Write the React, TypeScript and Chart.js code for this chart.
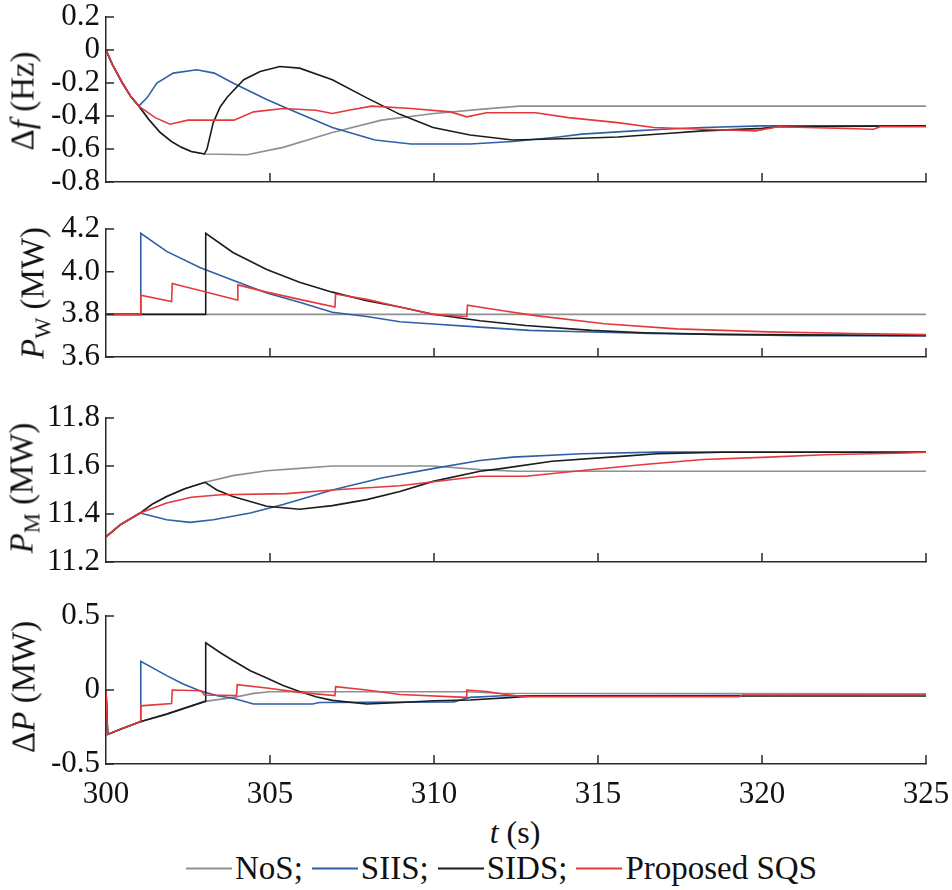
import { useEffect, useRef } from 'react'
import { Chart, registerables } from 'chart.js'

Chart.register(...registerables)

const FONT = 'Liberation Serif'
const AXIS = '#2a2a2a'
const TEXT = '#111'

Chart.defaults.font.family = FONT

const T_MIN = 300
const T_MAX = 325
const T_TICKS = [300, 305, 310, 315, 320, 325]

const SERIES = [
  { name: 'NoS;', color: '#8f8f8f', order: 3 },
  { name: 'SIIS;', color: '#2f5fa7', order: 2 },
  { name: 'SIDS;', color: '#1c1c1c', order: 1 },
  { name: 'Proposed SQS', color: '#e5383b', order: 0 },
]

// Δf (Hz)
const DF_TICKS = [0.2, 0, -0.2, -0.4, -0.6, -0.8]
const DF_START = [[300, 0], [300.2, -0.09], [300.5, -0.2], [300.75, -0.28], [301, -0.34]]
const DF_DROP = [[301.3, -0.42], [301.65, -0.5], [302, -0.555], [302.3, -0.59], [302.6, -0.615], [303, -0.63]]
const DF_NOS = [...DF_START, ...DF_DROP, [304.3, -0.635], [305.4, -0.59], [306.9, -0.5], [308.4, -0.425], [310, -0.385], [311.4, -0.36], [312.6, -0.34], [325, -0.34]]
const DF_SIIS = [...DF_START, [301.25, -0.29], [301.55, -0.2], [302.05, -0.14], [302.77, -0.12], [303.3, -0.14], [303.87, -0.2], [304.9, -0.3], [305.6, -0.36], [306.9, -0.47], [308.2, -0.545], [309.3, -0.57], [311.1, -0.57], [312.4, -0.555], [313.8, -0.527], [314.5, -0.51], [316.1, -0.49], [317, -0.48], [318.2, -0.47], [320, -0.46], [325, -0.46]]
const DF_SIDS = [...DF_START, ...DF_DROP, [303.08, -0.6], [303.27, -0.44], [303.48, -0.345], [303.7, -0.285], [304.2, -0.18], [304.7, -0.13], [305.3, -0.1], [305.9, -0.11], [306.9, -0.18], [307.95, -0.29], [308.96, -0.39], [309.97, -0.47], [311.1, -0.515], [312.4, -0.545], [314.5, -0.535], [315.6, -0.527], [317.2, -0.505], [318.2, -0.49], [320, -0.475], [320.5, -0.465], [325, -0.46]]
const DF_SQS = [...DF_START, [301.5, -0.41], [301.95, -0.45], [302.5, -0.425], [303.9, -0.425], [304.5, -0.375], [305.4, -0.355], [306.4, -0.365], [306.9, -0.385], [307.4, -0.365], [308.1, -0.34], [309.3, -0.355], [310.5, -0.375], [311, -0.405], [311.6, -0.38], [313.1, -0.38], [314.1, -0.41], [315.6, -0.44], [316.7, -0.47], [318.2, -0.48], [319.8, -0.49], [320.5, -0.465], [323.4, -0.48], [323.6, -0.465], [325, -0.465]]

// P_W (MW)
const PW_TICKS = [4.2, 4.0, 3.8, 3.6]
const PW_NOS = [[300, 3.8], [325, 3.8]]
const PW_SIIS = [[300, 3.8], [301.04, 3.8], [301.06, 4.18], [301.85, 4.095], [302.86, 4.02], [303.87, 3.96], [304.9, 3.9], [305.9, 3.857], [306.9, 3.81], [307.95, 3.79], [308.96, 3.765], [309.97, 3.755], [311.4, 3.74], [312.9, 3.725], [314.8, 3.717], [316.6, 3.71], [321.2, 3.7], [325, 3.7]]
const PW_SIDS = [[300, 3.8], [303.02, 3.8], [303.04, 4.18], [303.87, 4.09], [304.9, 4.01], [305.9, 3.95], [306.9, 3.904], [307.95, 3.864], [308.96, 3.834], [309.97, 3.8], [311.4, 3.77], [312.8, 3.748], [314.8, 3.725], [316.4, 3.714], [318.6, 3.706], [325, 3.7]]
const PW_SQS = [[300, 3.8], [301.04, 3.8], [301.06, 3.89], [302, 3.86], [302.02, 3.945], [304, 3.867], [304.02, 3.938], [304.9, 3.904], [305.9, 3.87], [306.98, 3.834], [307, 3.895], [307.95, 3.87], [308.96, 3.834], [309.97, 3.8], [311, 3.79], [311.02, 3.843], [312.1, 3.817], [313.1, 3.794], [315.2, 3.756], [317.4, 3.732], [320.2, 3.718], [322.8, 3.71], [325, 3.705]]

// P_M (MW)
const PM_TICKS = [11.8, 11.6, 11.4, 11.2]
const PM_START = [[300, 11.305], [300.43, 11.355], [301.04, 11.404]]
const PM_RISE = [[301.4, 11.44], [301.85, 11.473], [302.4, 11.505], [303.02, 11.532]]
const PM_NOS = [...PM_START, ...PM_RISE, [303.87, 11.56], [304.9, 11.58], [305.9, 11.59], [306.9, 11.6], [309.97, 11.6], [311.4, 11.585], [312.5, 11.578], [325, 11.578]]
const PM_SIIS = [...PM_START, [301.85, 11.376], [302.56, 11.365], [303.27, 11.376], [304.4, 11.404], [305.4, 11.44], [306.9, 11.5], [308.4, 11.55], [310, 11.59], [311.4, 11.623], [312.4, 11.637], [314.5, 11.651], [316.8, 11.658], [325, 11.658]]
const PM_SIDS = [...PM_START, ...PM_RISE, [303.38, 11.5], [303.87, 11.473], [304.9, 11.432], [305.9, 11.42], [306.9, 11.435], [307.95, 11.46], [308.96, 11.494], [309.97, 11.536], [311.4, 11.578], [312.1, 11.59], [313.6, 11.62], [315.7, 11.64], [316.8, 11.651], [318.8, 11.657], [325, 11.657]]
const PM_SQS = [...PM_START, [301.85, 11.446], [302.6, 11.47], [303.5, 11.48], [305.5, 11.485], [306.9, 11.5], [308.96, 11.518], [311.4, 11.557], [312.8, 11.557], [314.6, 11.582], [316.4, 11.606], [318.2, 11.627], [320.2, 11.637], [321.9, 11.647], [324.4, 11.654], [325, 11.657]]

// ΔP (MW)
const DP_TICKS = [0.5, 0, -0.5]
const DP_START = [[300, 0], [300.05, -0.3], [300.5, -0.26], [301.04, -0.215]]
const DP_RAMP = [[301.85, -0.163], [303.02, -0.077]]
const DP_NOS = [...DP_START, ...DP_RAMP, [303.9, -0.05], [304.5, -0.023], [305, -0.012], [311, -0.012], [312, -0.022], [325, -0.025]]
const DP_SIIS = [...DP_START, [301.06, 0.194], [301.85, 0.097], [302.35, 0.04], [302.86, -0.005], [303.4, -0.039], [303.9, -0.057], [304.5, -0.095], [306.3, -0.095], [306.5, -0.084], [310.6, -0.08], [311.1, -0.05], [312.1, -0.039], [325, -0.035]]
const DP_SIDS = [...DP_START, ...DP_RAMP, [303.04, 0.319], [303.5, 0.25], [303.87, 0.199], [304.4, 0.13], [304.9, 0.081], [305.4, 0.03], [305.9, -0.01], [306.4, -0.045], [306.9, -0.07], [307.95, -0.095], [309, -0.084], [310, -0.073], [311.1, -0.068], [312.4, -0.05], [313, -0.04], [325, -0.04]]
const DP_SQS = [...DP_START, [301.06, -0.107], [302, -0.091], [302.02, 0], [302.9, -0.005], [303, -0.034], [303.98, -0.038], [304, 0.036], [304.9, 0.014], [305.9, -0.016], [306.98, -0.038], [307, 0.022], [307.95, 0], [308.96, -0.03], [310.98, -0.05], [311, 0], [311.6, -0.01], [312.1, -0.027], [312.7, -0.045], [319.3, -0.045], [319.4, -0.034], [325, -0.034]]

const PAD_TOP = 24
const Y_AXIS_W = 106
const RIGHT_PAD = 26

const SUB = { fontSize: '0.68em', position: 'relative' as const, top: '0.3em', verticalAlign: 'baseline' }

const PANELS = [
  { top: 17, bottom: 182, min: -0.8, max: 0.2, ticks: DF_TICKS, data: [DF_NOS, DF_SIIS, DF_SIDS, DF_SQS], title: <>Δ<i>f</i> (Hz)</>, tx: 23, ty: 101 },
  { top: 229, bottom: 357, min: 3.6, max: 4.2, ticks: PW_TICKS, data: [PW_NOS, PW_SIIS, PW_SIDS, PW_SQS], title: <><i>P</i><sub style={SUB}>W</sub> (MW)</>, tx: 33, ty: 293 },
  { top: 418, bottom: 562, min: 11.2, max: 11.8, ticks: PM_TICKS, data: [PM_NOS, PM_SIIS, PM_SIDS, PM_SQS], title: <><i>P</i><sub style={SUB}>M</sub> (MW)</>, tx: 22, ty: 488 },
  { top: 616, bottom: 764, min: -0.5, max: 0.5, ticks: DP_TICKS, data: [DP_NOS, DP_SIIS, DP_SIDS, DP_SQS], title: <>Δ<i>P</i> (MW)</>, tx: 24, ty: 687 },
]

const fmt = (v: number) => (Math.abs(v) < 1e-9 ? '0' : v.toFixed(1))

const inwardTicks = {
  id: 'inwardTicks',
  afterDraw(chart: any) {
    const { ctx, chartArea: a, scales } = chart
    ctx.save()
    ctx.strokeStyle = AXIS
    ctx.lineWidth = 1.5
    ctx.beginPath()
    scales.x.ticks.forEach((t: any) => {
      const px = scales.x.getPixelForValue(t.value)
      if (px - a.left < 2) return
      ctx.moveTo(px, a.bottom)
      ctx.lineTo(px, a.bottom - 9)
    })
    scales.y.ticks.forEach((t: any) => {
      const py = scales.y.getPixelForValue(t.value)
      ctx.moveTo(a.left, py)
      ctx.lineTo(a.left + 8, py)
    })
    ctx.stroke()
    ctx.restore()
  },
}

function Panel({ p, showX }: { p: any; showX: boolean }) {
  const ref = useRef<HTMLCanvasElement>(null)
  const xH = showX ? 50 : 24
  const height = p.bottom - p.top + PAD_TOP + xH

  useEffect(() => {
    if (!ref.current) return
    const chart = new Chart(ref.current, {
      type: 'line',
      data: {
        datasets: SERIES.map((s, i) => ({
          label: s.name,
          data: p.data[i].map(([x, y]: number[]) => ({ x, y })),
          borderColor: s.color,
          backgroundColor: s.color,
          borderWidth: 1.6,
          pointRadius: 0,
          tension: 0,
          order: s.order,
        })),
      },
      options: {
        animation: false,
        responsive: true,
        maintainAspectRatio: false,
        events: [],
        layout: { padding: { top: PAD_TOP, right: RIGHT_PAD, left: 0, bottom: 0 } },
        plugins: { legend: { display: false }, tooltip: { enabled: false } },
        scales: {
          x: {
            type: 'linear',
            min: T_MIN,
            max: T_MAX,
            afterBuildTicks: (s: any) => {
              s.ticks = T_TICKS.map((value) => ({ value }))
            },
            afterFit: (s: any) => {
              s.height = xH
              s.paddingLeft = 0
              s.paddingRight = 0
            },
            grid: { display: false, drawTicks: false },
            border: { display: true, color: AXIS, width: 1.5 },
            ticks: {
              display: showX,
              padding: 12,
              maxRotation: 0,
              autoSkip: false,
              color: TEXT,
              font: { family: FONT, size: 31 },
              callback: (v: any) => String(v),
            },
          },
          y: {
            type: 'linear',
            min: p.min,
            max: p.max,
            afterBuildTicks: (s: any) => {
              s.ticks = p.ticks.map((value: number) => ({ value }))
            },
            afterFit: (s: any) => {
              s.width = Y_AXIS_W
              s.paddingTop = 0
              s.paddingBottom = 0
            },
            grid: { display: false, drawTicks: false },
            border: { display: true, color: AXIS, width: 1.5 },
            ticks: {
              padding: 6,
              autoSkip: false,
              color: TEXT,
              font: { family: FONT, size: 31 },
              callback: (v: any) => fmt(Number(v)),
            },
          },
        },
      },
      plugins: [inwardTicks],
    } as any)
    return () => chart.destroy()
  }, [])

  return (
    <>
      <div style={{ position: 'absolute', left: 0, top: p.top - PAD_TOP, width: 952, height }}>
        <canvas ref={ref} role="img" aria-label="time response" />
      </div>
      <div
        style={{
          position: 'absolute',
          left: p.tx,
          top: p.ty,
          transform: 'translate(-50%, -50%) rotate(-90deg)',
          whiteSpace: 'nowrap',
          fontSize: 33,
          lineHeight: 1,
        }}
      >
        {p.title}
      </div>
    </>
  )
}

export default function App() {
  useEffect(() => {
    document.body.style.margin = '0'
  }, [])

  return (
    <div style={{ position: 'relative', width: 952, height: 890, overflow: 'hidden', fontFamily: FONT, color: TEXT, background: '#fff' }}>
      {PANELS.map((p, i) => (
        <Panel key={i} p={p} showX={i === PANELS.length - 1} />
      ))}
      <div style={{ position: 'absolute', left: 515, top: 832, transform: 'translate(-50%, -50%)', fontSize: 32, lineHeight: 1, whiteSpace: 'nowrap' }}>
        <i>t</i> (s)
      </div>
      <div style={{ position: 'absolute', left: 186, top: 868, transform: 'translateY(-50%)', display: 'flex', alignItems: 'center', fontSize: 33, lineHeight: 1, whiteSpace: 'nowrap' }}>
        {SERIES.map((s) => (
          <span key={s.name} style={{ display: 'flex', alignItems: 'center', marginRight: 9 }}>
            <span style={{ display: 'inline-block', width: 46, height: 2, background: s.color, marginRight: 3 }} />
            {s.name}
          </span>
        ))}
      </div>
    </div>
  )
}
